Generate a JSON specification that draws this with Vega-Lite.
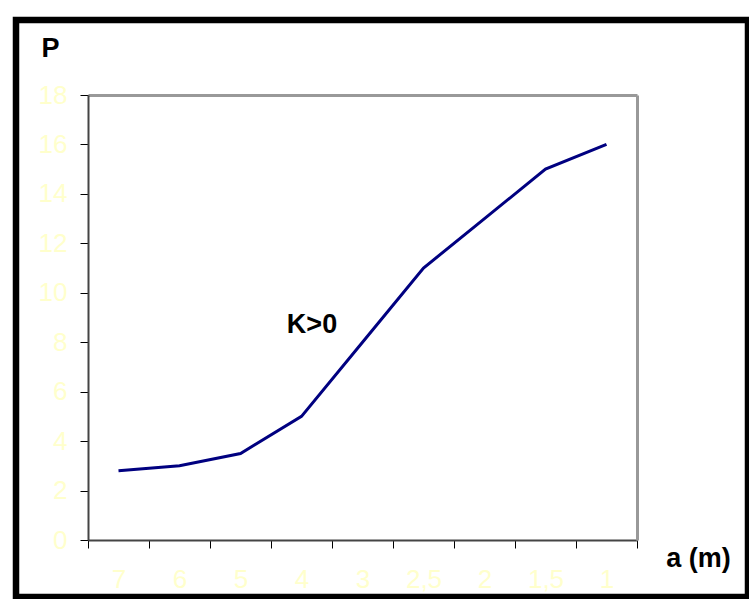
{
  "$schema": "https://vega.github.io/schema/vega-lite/v6.json",
  "width": 732,
  "height": 577,
  "autosize": {"type": "none"},
  "padding": {"left": 16, "top": 20, "right": 1, "bottom": 2},
  "background": "white",
  "config": {
    "view": {"stroke": "black", "strokeWidth": 6.5, "fill": "white"},
    "font": "Liberation Sans"
  },
  "data": {"values": [
    {"a": "7", "P": 2.8},
    {"a": "6", "P": 3.0},
    {"a": "5", "P": 3.5},
    {"a": "4", "P": 5.0},
    {"a": "3", "P": 8.0},
    {"a": "2,5", "P": 11.0},
    {"a": "2", "P": 13.0},
    {"a": "1,5", "P": 15.0},
    {"a": "1", "P": 16.0}
  ]},
  "resolve": {"axis": {"x": "independent", "y": "independent"}},
  "layer": [
    {
      "mark": {"type": "line", "color": "#000080", "strokeWidth": 3},
      "encoding": {
        "x": {
          "field": "a", "type": "nominal", "sort": null,
          "scale": {"type": "band", "paddingInner": 0, "paddingOuter": 0, "range": [72, 621]},
          "axis": {
            "orient": "bottom",
            "title": "a (m)", "titleX": 682, "titleY": 18, "titleAlign": "center", "titleBaseline": "middle",
            "titleFontSize": 27, "titleFontWeight": "bold", "titleColor": "black", "titleFont": "Liberation Sans",
            "offset": -57, "domain": true, "domainColor": "#444444", "domainWidth": 2, "grid": false, "labelAngle": 0,
            "tickBand": "extent", "tickSize": 8, "tickColor": "black", "tickWidth": 1,
            "labelColor": "#FFFFCC", "labelFontSize": 26, "labelPadding": 18, "labelFont": "Liberation Sans"
          }
        },
        "y": {
          "field": "P", "type": "quantitative",
          "scale": {"domain": [0, 18], "nice": false, "zero": false, "range": [520, 75]},
          "axis": {
            "orient": "left",
            "values": [0, 2, 4, 6, 8, 10, 12, 14, 16, 18],
            "title": "P", "titleAngle": 0, "titleX": -38, "titleY": 28, "titleAlign": "center", "titleBaseline": "middle",
            "titleFontSize": 27, "titleFontWeight": "bold", "titleColor": "black", "titleFont": "Liberation Sans",
            "offset": -72, "domain": true, "domainColor": "#444444", "domainWidth": 2, "grid": false,
            "tickSize": 8, "tickColor": "black", "tickWidth": 1,
            "labelColor": "#FFFFCC", "labelFontSize": 26, "labelPadding": 13, "labelFont": "Liberation Sans"
          }
        }
      }
    },
    {
      "transform": [{"filter": "datum.a == '4'"}],
      "mark": {"type": "text", "fontSize": 27, "fontWeight": "bold", "font": "Liberation Sans", "color": "black", "dx": 10.5, "align": "center", "baseline": "middle"},
      "encoding": {
        "x": {
          "field": "a", "type": "nominal", "sort": null,
          "axis": {"orient": "top", "offset": -75, "domain": true, "domainColor": "#999999", "domainWidth": 3, "ticks": false, "labels": false, "grid": false, "title": null}
        },
        "y": {
          "datum": 8.7, "type": "quantitative",
          "axis": {"orient": "right", "offset": -111, "domain": true, "domainColor": "#999999", "domainWidth": 3, "ticks": false, "labels": false, "grid": false, "title": null}
        },
        "text": {"value": "K>0"}
      }
    }
  ]
}
